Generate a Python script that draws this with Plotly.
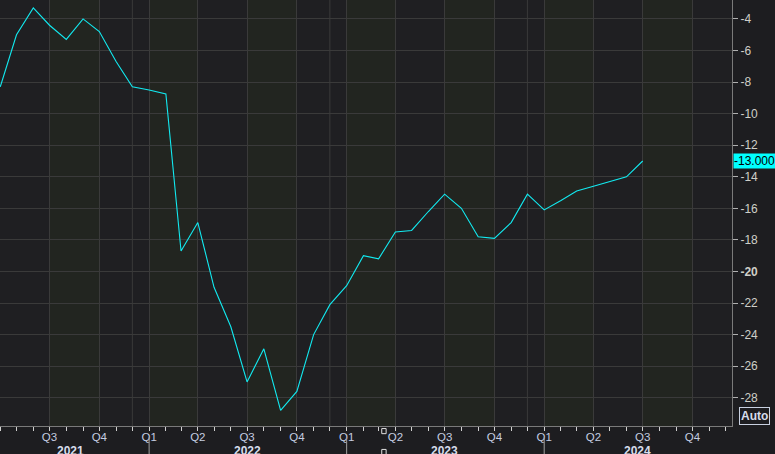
import plotly.graph_objects as go
import pandas as pd

# ---- data ----
months = pd.date_range("2021-04-01", "2024-07-01", freq="MS")
values_2021 = [-8.3, -5.0, -3.3, -4.4, -5.3, -4.0, -4.8, -6.7, -8.3]
values_2022 = [-8.5, -8.75, -18.7, -16.9, -21.0, -23.5, -27.0, -24.9, -28.8, -27.6, -24.0, -22.1]
values_2023 = [-20.9, -19.0, -19.2, -17.5, -17.4, -16.2, -15.1, -16.0, -17.8, -17.9, -16.9, -15.1]
values_2024 = [-16.1, -15.5, -14.9, -14.6, -14.3, -14.0, -13.0]
values = values_2021 + values_2022 + values_2023 + values_2024

quarter_starts = pd.date_range("2021-04-01", "2024-10-01", freq="QS")
quarter_labels = ["Q%d" % ((d.month - 1) // 3 + 1) for d in quarter_starts]
year_labels = ["2021", "2022", "2023", "2024"]
year_label_pos = ["2021-08-09", "2022-07-01", "2023-07-01", "2024-06-22"]
year_starts = ["2022-01-01", "2023-01-01", "2024-01-01"]
extra_lines = ["2021-12-01", "2022-12-01", "2023-12-01"]
y_ticks = [-4, -6, -8, -10, -12, -14, -16, -18, -20, -22, -24, -26, -28]
y_ticktext = [("<b>%d</b>" % v if v == -20 else "%d" % v) for v in y_ticks]
last_label = "-13.000"

X0 = "2021-03-31 12:00"
X1 = "2024-12-13"

LINE = "#12eaf0"
GRID = "#3a3a3a"
DARK = "#1f1f22"
GREEN = "#222520"
FONT = "Liberation Sans"

fig = go.Figure()
fig.add_trace(go.Scatter(x=months, y=values, mode="lines",
                         line=dict(color=LINE, width=1.1), hoverinfo="skip"))

shapes = []
# alternating quarter bands
bounds = list(quarter_starts) + [pd.Timestamp("2025-01-01")]
for i in range(len(bounds) - 1):
    if i % 2 == 1:
        shapes.append(dict(type="rect", xref="x", yref="paper", x0=bounds[i], x1=bounds[i + 1],
                           y0=0, y1=1, fillcolor=GREEN, line=dict(width=0), layer="below"))
for d in extra_lines:
    shapes.append(dict(type="line", xref="x", yref="paper", x0=d, x1=d, y0=0, y1=1,
                       line=dict(color=GRID, width=1), layer="below"))
for d in year_starts:
    shapes.append(dict(type="line", xref="x", yref="paper", x0=d, x1=d, y0=-0.026, y1=-0.07,
                       line=dict(color="#a0a0a0", width=1)))
# small square markers
for yy in [-0.012, -0.061]:
    shapes.append(dict(type="rect", xref="paper", yref="paper", x0=0.5215, x1=0.5275,
                       y0=yy - 0.006, y1=yy + 0.006, line=dict(color="#e0e0e0", width=1),
                       fillcolor="#1d1d20"))

annotations = []
for t, p in zip(year_labels, year_label_pos):
    annotations.append(dict(x=p, xref="x", y=-0.058, yref="paper", text="<b>%s</b>" % t,
                            showarrow=False, xanchor="center", yanchor="middle",
                            font=dict(family=FONT, size=12, color="#d6dceb")))
annotations.append(dict(x=1, xref="paper", y=-13.0, yref="y", text=last_label, showarrow=False,
                        xanchor="left", yanchor="middle", xshift=1, bgcolor="#00ffff",
                        borderpad=0, font=dict(family=FONT, size=12, color="#000000")))
annotations.append(dict(x=1, xref="paper", y=0, yref="paper", text="<b>Auto</b>", showarrow=False,
                        xanchor="left", yanchor="bottom", xshift=7, yshift=1,
                        bordercolor="#c8d0e0", borderwidth=1, borderpad=1, bgcolor="#1d1d20",
                        font=dict(family=FONT, size=12, color="#d6dceb")))

fig.update_layout(
    width=775, height=454,
    margin=dict(l=0, r=43, t=0, b=28),
    paper_bgcolor="#1d1d20", plot_bgcolor=DARK,
    showlegend=False,
    shapes=shapes, annotations=annotations,
    xaxis=dict(range=[X0, X1], type="date", tickvals=quarter_starts, ticktext=quarter_labels,
               showgrid=True, gridcolor=GRID, gridwidth=1, zeroline=False,
               ticks="outside", ticklen=0, tickcolor="#d0d0d0",
               tickfont=dict(family=FONT, size=11.5, color="#c5cde0"),
               showline=True, linecolor="#7a7a7a", linewidth=1,
               minor=dict(dtick="M1", tick0="2021-01-01", ticks="outside", ticklen=4,
                          tickcolor="#d0d0d0", showgrid=False),
               fixedrange=True),
    yaxis=dict(range=[-29.79, -2.80], side="right", tickvals=y_ticks, ticktext=y_ticktext,
               showgrid=True, gridcolor=GRID, gridwidth=1, zeroline=False,
               ticks="outside", ticklen=5, tickcolor="#b0b0b0",
               tickfont=dict(family=FONT, size=12, color="#cfcfc8"),
               showline=True, linecolor="#7a7a7a", linewidth=1, fixedrange=True),
)

fig.write_html("out.html", config={"displayModeBar": False},
               post_script="document.body.style.margin='0';document.body.style.background='#1d1d20';")
